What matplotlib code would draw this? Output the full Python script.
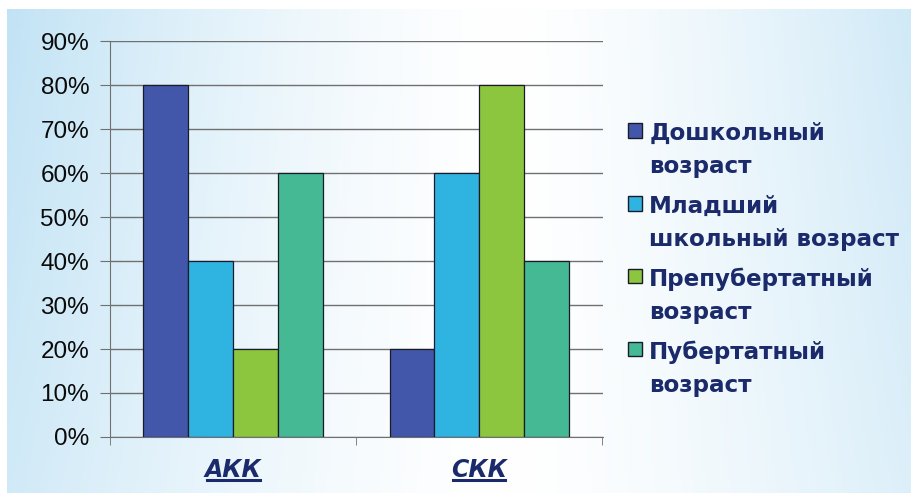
import numpy as np
import matplotlib.pyplot as plt
from matplotlib.patches import Rectangle
from matplotlib.lines import Line2D

# данные
categories = ["АКК", "СКК"]
series_names = ["Дошкольный\nвозраст", "Младший\nшкольный возраст",
                "Препубертатный\nвозраст", "Пубертатный\nвозраст"]
values = {
    "Дошкольный\nвозраст": [80, 20],
    "Младший\nшкольный возраст": [40, 60],
    "Препубертатный\nвозраст": [20, 80],
    "Пубертатный\nвозраст": [60, 40],
}
colors = ["#4257aa", "#2fb4e2", "#8cc63f", "#45b894"]
yticks = [0, 10, 20, 30, 40, 50, 60, 70, 80, 90]

navy = "#1b2a6b"

fig = plt.figure(figsize=(9.13, 4.93), dpi=100)

# фон - голубой градиент
bg = fig.add_axes([0.008, 0.0, 0.99, 0.982])
gx = np.linspace(0, 1, 300)
gy = np.linspace(0, 1, 160)
X, Y = np.meshgrid(gx, gy)
t = np.clip(np.abs(X - 0.55) / 0.55, 0, 1) ** 1.4
t = t * (0.75 + 0.25 * Y)
c0 = np.array([1.0, 1.0, 1.0])
c1 = np.array([0.76, 0.89, 0.96])
img = c0[None, None, :] * (1 - t[..., None]) + c1[None, None, :] * t[..., None]
bg.imshow(img, aspect="auto", origin="lower", extent=[0, 1, 0, 1])
bg.axis("off")

ax = fig.add_axes([0.1205, 0.1136, 0.5405, 0.8032])
ax.patch.set_alpha(0)

x = np.arange(len(categories))
w = 0.182
n = len(series_names)
for i, name in enumerate(series_names):
    pos = x + (i - (n - 1) / 2) * w
    ax.bar(pos, values[name], width=w, color=colors[i], edgecolor="#1a1a2a",
           linewidth=0.9, zorder=3)

ax.set_xlim(-0.5, 1.505)
ax.set_ylim(0, 90)
ax.set_yticks(yticks)
ax.set_yticklabels([f"{v}%" for v in yticks], fontsize=17.5,
                   family="Liberation Sans", color="#0a0a0a")
ax.yaxis.grid(True, color="#707070", linewidth=1.0, zorder=0)
ax.tick_params(axis="y", length=7, color="#707070", pad=8)

ax.set_xticks(x)
ax.set_xticklabels(categories, fontsize=17, fontweight="bold", style="italic",
                   color=navy)
ax.tick_params(axis="x", length=0, pad=15)
ax.set_xticks([-0.5, 0.5, 1.5], minor=True)
ax.tick_params(axis="x", which="minor", length=6, color="#707070")

for s in ["top", "right"]:
    ax.spines[s].set_visible(False)
ax.spines["left"].set_color("#707070")
ax.spines["bottom"].set_color("#707070")

# подчеркивание подписей категорий
fig.canvas.draw()
renderer = fig.canvas.get_renderer()
inv = fig.transFigure.inverted()
for lbl in ax.get_xticklabels():
    bb = lbl.get_window_extent(renderer)
    (x0, y0), (x1, y1) = inv.transform([[bb.x0, bb.y0], [bb.x1, bb.y1]])
    fig.add_artist(Line2D([x0 + 0.002, x1 - 0.002], [y0 + 0.004, y0 + 0.004],
                          transform=fig.transFigure, color=navy, linewidth=2.2))

# легенда
leg_x = 0.688
leg_top = 0.735
step = 0.148
line_gap = 0.067
for i, name in enumerate(series_names):
    ty = leg_top - i * step
    fig.add_artist(Rectangle((leg_x, ty - 0.014), 0.0155, 0.029,
                             transform=fig.transFigure, facecolor=colors[i],
                             edgecolor="#1a1a2a", linewidth=1.0))
    for k, line in enumerate(name.split("\n")):
        fig.text(leg_x + 0.023, ty - k * line_gap, line, fontsize=16.6,
                 fontweight="bold", color=navy, va="center_baseline", ha="left")

fig.savefig("out.png", dpi=100)
